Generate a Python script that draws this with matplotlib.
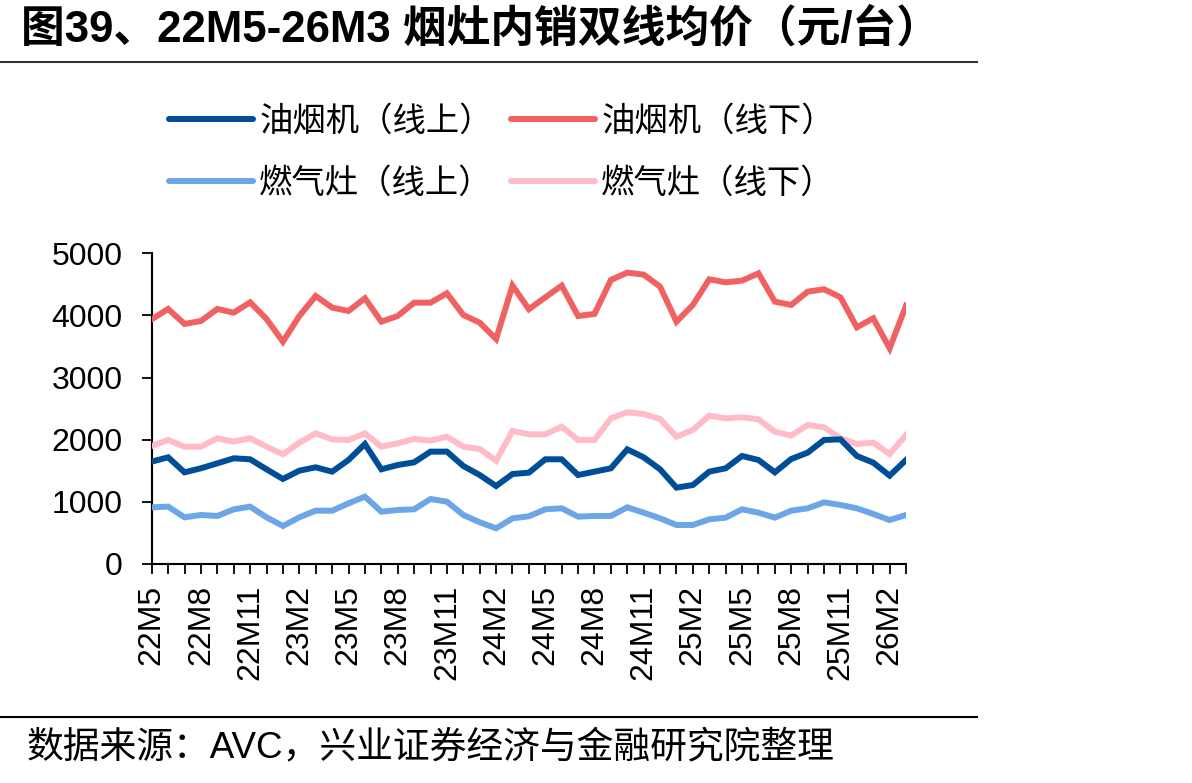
"""
烟灶内销双线均价 (22M5-26M3), recreated as out.png.
"""

import matplotlib
matplotlib.use("Agg")
import matplotlib.pyplot as plt
from matplotlib.lines import Line2D

plt.rcParams['font.family'] = ['Liberation Sans', 'Noto Sans CJK SC', 'DejaVu Sans']

# ---------------------------------------------------------------
# DATA (元/台)
# ---------------------------------------------------------------
months = []
for y in range(22, 27):
    for m in range(1, 13):
        if (y == 22 and m < 5) or (y == 26 and m > 3):
            continue
        months.append(f"{y}M{m}")

hood_online = [1647, 1717, 1475, 1540, 1620, 1701, 1685, 1524, 1368, 1502,
               1556, 1486, 1674, 1931, 1524, 1593, 1636, 1808, 1808, 1577,
               1432, 1255, 1448, 1470, 1685, 1685, 1432, 1486, 1540, 1845,
               1717, 1524, 1229, 1271, 1486, 1540, 1738, 1674, 1475, 1690,
               1792, 1996, 2006, 1738, 1631, 1422, 1674]
hood_offline = [3938, 4104, 3863, 3911, 4104, 4045, 4211, 3943, 3578, 3991,
                4313, 4126, 4072, 4276, 3900, 3991, 4206, 4206, 4356, 4008,
                3884, 3621, 4480, 4100, 4292, 4480, 3991, 4024, 4571, 4689,
                4657, 4464, 3900, 4169, 4582, 4533, 4560, 4678, 4222, 4169,
                4383, 4421, 4292, 3809, 3954, 3471, 4158]
stove_online = [912, 923, 751, 789, 773, 880, 923, 751, 612, 751,
                858, 858, 976, 1084, 842, 869, 880, 1046, 1003, 789,
                671, 574, 735, 768, 880, 896, 762, 773, 773, 912,
                826, 735, 628, 628, 719, 746, 880, 826, 746, 858,
                896, 992, 950, 896, 805, 708, 789]
stove_offline = [1899, 1996, 1888, 1888, 2023, 1969, 2023, 1888, 1765, 1953,
                 2103, 2006, 1996, 2103, 1888, 1942, 2012, 1985, 2049, 1888,
                 1851, 1663, 2141, 2087, 2087, 2210, 1996, 1996, 2344, 2441,
                 2414, 2334, 2049, 2157, 2387, 2344, 2361, 2328, 2130, 2065,
                 2237, 2200, 2023, 1931, 1953, 1770, 2076]

series = [
    ('油烟机（线上）', hood_online, '#004E98'),
    ('油烟机（线下）', hood_offline, '#F06262'),
    ('燃气灶（线上）', stove_online, '#6CA6E6'),
    ('燃气灶（线下）', stove_offline, '#FFBCC8'),
]

# ---------------------------------------------------------------
# PLOT
# ---------------------------------------------------------------
fig = plt.figure(figsize=(11.92, 7.83), dpi=100)
ax = fig.add_axes([0.1273, 0.2797, 0.6328, 0.3968])

x = list(range(len(months)))
# offline lines first so the online ones sit on top like the source
for label, vals, color in [series[1], series[3], series[0], series[2]]:
    ax.plot(x, vals, color=color, lw=4.3, solid_joinstyle='miter', zorder=3)

ax.set_xlim(0, len(months) - 1)
ax.set_ylim(0, 5000)
ax.set_yticks(range(0, 5001, 1000))
ax.set_xticks(x)
ax.set_xticklabels([m if i % 3 == 0 else '' for i, m in enumerate(months)],
                   rotation=90, fontsize=23)
ax.tick_params(axis='x', direction='out', length=7, width=1.3, pad=8)
ax.tick_params(axis='y', direction='out', length=7, width=1.3, pad=14,
               labelsize=23)
for side in ('top', 'right'):
    ax.spines[side].set_visible(False)
for side in ('left', 'bottom'):
    ax.spines[side].set_linewidth(1.5)

# legend is filled column by column, so reorder to get the source's rows
order = [0, 2, 1, 3]
handles = [Line2D([], [], color=series[i][2], lw=4.3, solid_capstyle='round')
           for i in order]
fig.legend(handles, [series[i][0] for i in order], ncol=2, frameon=False,
           loc='upper left', bbox_to_anchor=(0.128, 0.886),
           fontsize=24, handlelength=2.5, handletextpad=0.2,
           columnspacing=0.55, labelspacing=0.92, borderpad=0)

# title, rules and source note
fig.text(0.018, 0.963, '图39、22M5-26M3 烟灶内销双线均价（元/台）',
         fontsize=31.5, fontweight='bold', va='center', ha='left')
fig.add_artist(Line2D([0, 0.82], [1 - 62 / 783] * 2, color='#333333', lw=1.5))
fig.add_artist(Line2D([0, 0.82], [1 - 717 / 783] * 2, color='black', lw=1.5))
fig.text(0.022, 1 - 748 / 783, '数据来源：AVC，兴业证券经济与金融研究院整理',
         fontsize=26.5, va='center', ha='left')

fig.savefig('out.png', dpi=100)
plt.close(fig)
